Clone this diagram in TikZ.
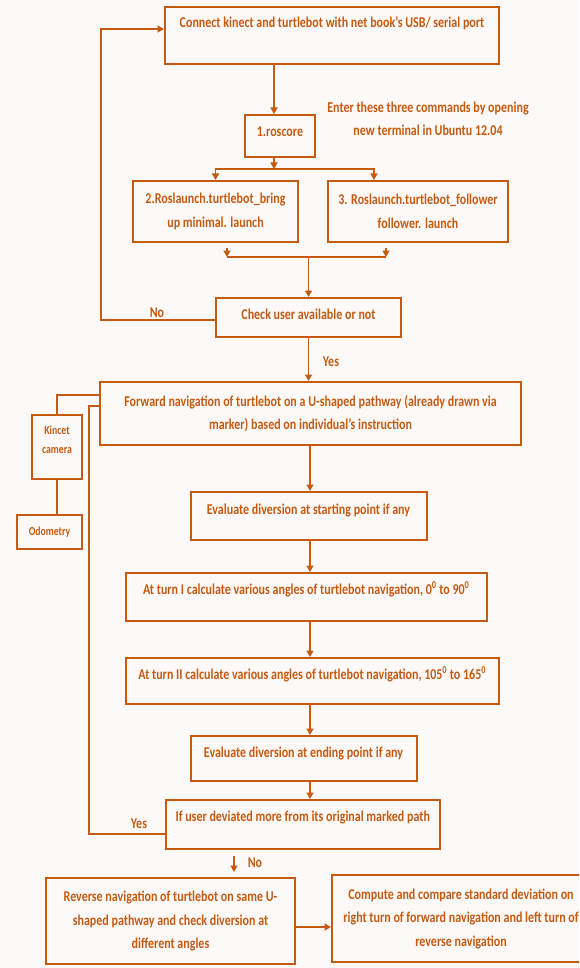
\documentclass[tikz,border=0pt]{standalone}
\usepackage{fontspec}
\setmainfont{Carlito}[FakeStretch=0.8]
\usetikzlibrary{arrows.meta}
\definecolor{ocol}{HTML}{C55A11}
\definecolor{bgcol}{HTML}{FDF9F8}
\newcommand\mymf{\fontsize{15}{23.5}\selectfont\bfseries}
\newcommand\mysf{\fontsize{12.2}{19}\selectfont\bfseries}
\tikzset{
  box/.style={draw=ocol, line width=2pt, inner xsep=2pt, inner ysep=0pt, align=center, font=\mymf, text=ocol},
  tb/.style 2 args={text height=#1pt, text depth=#2pt},
  lbl/.style={font=\mymf, text=ocol, inner sep=0pt},
  conn/.style={draw=ocol, line width=1.8pt},
  arr/.style={conn, -{Triangle[length=6.5pt,width=7pt]}}
}
\begin{document}
\begin{tikzpicture}[x=1pt,y=-1pt]
\useasboundingbox (0,0) rectangle (579,968);
\clip (0,0) rectangle (579,968);
\fill[bgcol] (0,0) rectangle (579,968);

% boxes
\node[box, tb={21}{36}, minimum width=334pt] (box1) at (332,35.5) {Connect kinect and turtlebot with net book’s USB/ serial port};
\node[box, tb={22}{20}, minimum width=70pt] (ros) at (280,136) {1.roscore};
\node[lbl, align=center] (note) at (428,119) {Enter these three commands by opening\\new terminal in Ubuntu 12.04};
\node[box, minimum width=165pt, minimum height=61pt] (box2) at (215.5,211.5) {2.Roslaunch.turtlebot\_bring\\up minimal. launch};
\node[box, minimum width=180pt, minimum height=61pt] (box3) at (418,211.5) {3. Roslaunch.turtlebot\_follower\\follower. launch};
\node[box, tb={21}{18}, minimum width=185pt] (check) at (308.5,317.5) {Check user available or not};
\node[box, minimum width=421pt, minimum height=63pt] (fwd) at (310.5,413.5) {Forward navigation of turtlebot on a U-shaped pathway (already drawn via\\marker) based on individual’s instruction};
\node[box, font=\mysf, minimum width=50pt, minimum height=64pt] (kin) at (57,447) {Kincet\\camera\\[-4pt]};
\node[box, font=\mysf, tb={20}{14}, minimum width=65pt] (odo) at (49.5,532) {Odometry};
\node[box, tb={22}{26}, minimum width=236pt] (ev1) at (308.5,516) {Evaluate diversion at starting point if any};
\node[box, tb={21}{27}, minimum width=361.5pt] (t1) at (306.25,597) {At turn I calculate various angles of turtlebot navigation, 0\textsuperscript{0} to 90\textsuperscript{0}};
\node[box, tb={21}{25}, minimum width=372.5pt] (t2) at (312.25,681) {At turn II calculate various angles of turtlebot navigation, 105\textsuperscript{0} to 165\textsuperscript{0}};
\node[box, tb={21}{24}, minimum width=226pt] (ev2) at (303.5,758.5) {Evaluate diversion at ending point if any};
\node[box, tb={21}{28}, minimum width=273.5pt] (dev) at (302.75,824.5) {If user deviated more from its original marked path};
\node[box, minimum width=249pt, minimum height=86pt] (rev) at (170.5,921) {Reverse navigation of turtlebot on same U-\\shaped pathway and check diversion at\\different angles};
\node[box, minimum width=258pt, minimum height=87pt] (comp) at (461,918.5) {Compute and compare standard deviation on\\right turn of forward navigation and left turn of\\reverse navigation};

% labels
\node[lbl] (lno1) at (157,313) {No};
\node[lbl] (lyes1) at (331,362) {Yes};
\node[lbl] (lyes2) at (139,824) {Yes};
\node[lbl] (lno2) at (255,863) {No};

% helper coordinates
\coordinate (split) at (274,169);
\coordinate (jl) at (227,257);
\coordinate (jr) at (386,257);
\coordinate (nl) at (101,320);
\coordinate (yl) at (89,834);
\coordinate (sp) at (310,0);
\coordinate (nx) at (234,0);

% connectors
\draw[arr] ([xshift=-6pt]ros.north |- box1.south) -- ([xshift=-6pt]ros.north);
\draw[arr] ([xshift=-6pt]ros.south) -- (split);
\draw[arr] (split) -| (box2.north);
\draw[arr] (split) -| ([xshift=-44pt]box3.north);
\draw[arr] ([yshift=-5pt]box2.south -| jl) -- (jl);
\draw[arr] ([yshift=-5pt]box3.south -| jr) -- (jr);
\draw[conn] (jl) -- (jr);
\draw[arr] (check.north |- jl) -- (check.north);
\draw[arr] (check.west |- nl) -- (nl) |- ([yshift=6.5pt]box1.west);
\draw[arr] (check.south) -- (check.south |- fwd.north);
\draw[conn] ([yshift=18.5pt]fwd.west) -| (kin.north);
\draw[conn] (kin.south) -- (kin.south |- odo.north);
\draw[conn] ([yshift=7.5pt]fwd.west) -| (yl) -- (yl -| dev.west);
\draw[arr] (fwd.south -| sp) -- (ev1.north -| sp);
\draw[arr] (ev1.south -| sp) -- (t1.north -| sp);
\draw[arr] (t1.south -| sp) -- (t2.north -| sp);
\draw[arr] (t2.south -| sp) -- (ev2.north -| sp);
\draw[arr] (ev2.south -| sp) -- (dev.north -| sp);
\draw[arr, shorten <=6pt, shorten >=5pt] (dev.south -| nx) -- (rev.north -| nx);
\draw[arr] ([yshift=-6pt]rev.east) -- ([yshift=-6pt]rev.east -| comp.west);
\end{tikzpicture}
\end{document}
